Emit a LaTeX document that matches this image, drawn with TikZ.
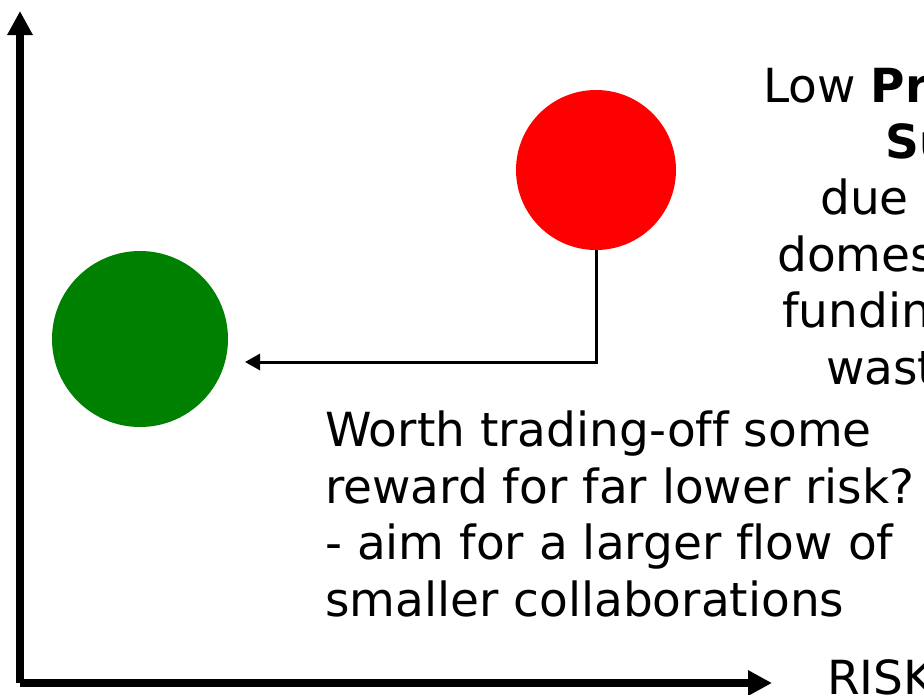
\documentclass[tikz,border=0pt]{standalone}
\usepackage{fontspec}
\setmainfont[Ligatures={NoCommon}]{DejaVu Sans}
\usetikzlibrary{arrows.meta}

\definecolor{riskred}{HTML}{FF0000}
\definecolor{safegreen}{HTML}{008000}

\tikzset{
  axis/.style={line width=8pt, -{Triangle[length=24pt,width=24pt]}},
  link/.style={line width=3pt, -{Triangle[length=15pt,width=16pt]}},
  blob/.style={circle, draw=none, inner sep=0pt},
  note/.style={inner sep=0pt, align=left, anchor=base west,
    font=\fontsize{47}{56.4}\selectfont}
}

\begin{document}
\begin{tikzpicture}[x=1pt, y=-1pt]
  \useasboundingbox (0,0) rectangle (924,694);
  \fill[white] (0,0) rectangle (924,694);
  \clip (0,0) rectangle (924,694);

  % axes
  \coordinate (origin) at (20,683);
  \coordinate (ytip) at (20,11);
  \coordinate (xtip) at (772,683);
  \draw[axis] (origin) -- (ytip);
  \draw[axis] (origin) -- (xtip);
  \node[note] (risk) at (827,694) {RISK};

  % the two options
  \node[blob, fill=riskred, minimum size=160pt] (high) at (596,170) {};
  \node[blob, fill=safegreen, minimum size=176pt] (low) at (140,339) {};

  % move from the high-risk option towards the low-risk one
  \coordinate (turn) at (596,362);
  \coordinate (target) at (245,362);
  \draw[link] (high.south) -- (turn) -- (target);

  % notes (base anchor sits on the last line)
  \node[note] (why) at (763,384) {Low \textbf{Probability of}\\
    \hspace*{122pt}\textbf{Success}\\
    \hspace*{57pt}due to\\
    \hspace*{14pt}domestic\\
    \hspace*{19pt}funding\\
    \hspace*{63pt}wastage};
  \node[note] (tradeoff) at (325,616) {Worth trading-off some\\
    reward for far lower risk?\\
    - aim for a larger flow of\\
    smaller collaborations};
\end{tikzpicture}
\end{document}
